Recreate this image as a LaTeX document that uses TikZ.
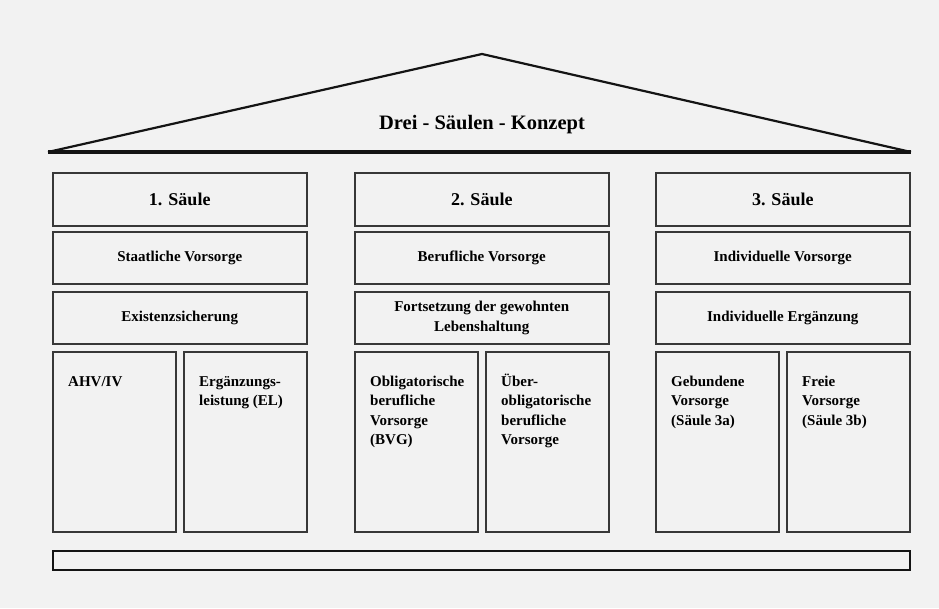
\documentclass[tikz,border=0pt]{standalone}
\usepackage{fontspec}
\setmainfont{Liberation Serif}
\usepackage{xcolor}
\colorlet{pageBg}{black!5}
\colorlet{frameLine}{black!78}
\colorlet{roofLine}{black!92}

\begin{document}
\begin{tikzpicture}[
  x=1pt, y=-1pt,
  pillarBox/.style={
    draw=frameLine,
    line width=1.5pt,
    anchor=north west,
    inner sep=0pt,
    minimum width=254pt,
    align=center,
  },
  titleBox/.style={
    pillarBox,
    minimum height=53pt,
    font=\bfseries\fontsize{18}{21}\selectfont,
  },
  rowBox/.style={
    pillarBox,
    minimum height=52pt,
    font=\bfseries\fontsize{15}{19.5}\selectfont,
  },
  subBox/.style={
    pillarBox,
    minimum width=123pt,
    minimum height=180pt,
  },
  subText/.style={
    anchor=north west,
    inner sep=0pt,
    align=left,
    font=\bfseries\fontsize{15}{19.5}\selectfont,
  },
  roofText/.style={
    font=\bfseries\fontsize{20.5}{24}\selectfont,
  },
  baseBar/.style={
    draw=roofLine,
    line width=2.4pt,
    anchor=north west,
    inner sep=0pt,
    minimum width=857pt,
    minimum height=19pt,
  }
]
\fill[pageBg] (0,0) rectangle (939,608);
\useasboundingbox (0,0) rectangle (939,608);

% roof
\coordinate (eaveL) at (48,152);
\coordinate (eaveR) at (911,152);
\coordinate (apex) at (482,54);
\draw[roofLine, line width=2.2pt, line join=round] (eaveL) -- (apex) -- (eaveR);
\draw[roofLine, line width=3.5pt] (eaveL) -- (eaveR);
\node[roofText] (roof) at (482,125) {Drei - Säulen - Konzept};

% pillars
\foreach \c/\x/\head/\kind/\goal in {
  1/52/{1. Säule}/{Staatliche Vorsorge}/{Existenzsicherung},
  2/354/{2. Säule}/{Berufliche Vorsorge}/{Fortsetzung der gewohnten\\Lebenshaltung},
  3/655/{3. Säule}/{Individuelle Vorsorge}/{Individuelle Ergänzung}} {
  \node[titleBox] (head\c) at (\x,172) {\head};
  \node[rowBox] (kind\c) at (\x,231) {\kind};
  \node[rowBox] (goal\c) at (\x,291) {\goal};
  \node[subBox] (subL\c) at (\x,351) {};
  \node[subBox] (subR\c) at (\x+131,351) {};
}

% texts of the lower boxes
\foreach \n/\txt in {
  subL1/{AHV/IV},
  subR1/{Ergänzungs-\\leistung (EL)},
  subL2/{Obligatorische\\berufliche\\Vorsorge\\(BVG)},
  subR2/{Über-\\obligatorische\\berufliche\\Vorsorge},
  subL3/{Gebundene\\Vorsorge\\(Säule 3a)},
  subR3/{Freie\\Vorsorge\\(Säule 3b)}} {
  \node[subText] (\n txt) at ([shift={(16,21.5)}]\n.north west) {\strut\txt};
}

% base
\node[baseBar] (plinth) at (52,550) {};
\end{tikzpicture}
\end{document}
